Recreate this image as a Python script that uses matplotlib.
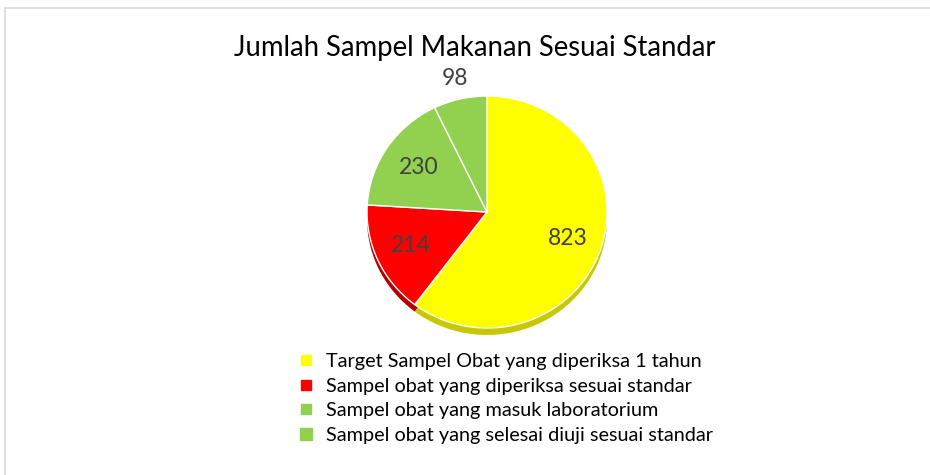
import matplotlib
matplotlib.use("Agg")
import matplotlib.pyplot as plt
from matplotlib.patches import Rectangle
from matplotlib.lines import Line2D
import numpy as np

title = "Jumlah Sampel Makanan Sesuai Standar"
categories = [
    "Target Sampel Obat yang diperiksa 1 tahun",
    "Sampel obat yang diperiksa sesuai standar",
    "Sampel obat yang masuk laboratorium",
    "Sampel obat yang selesai diuji sesuai standar",
]
values = [823, 214, 230, 98]
colors = ["#FFFF00", "#FF0000", "#92D050", "#92D050"]
dark_colors = ["#C8C800", "#B00000", "#70A030", "#70A030"]

plt.rcParams['font.family'] = ['Lato', 'DejaVu Sans']

fig = plt.figure(figsize=(9.3, 4.75), dpi=100)
fig.patches.append(Rectangle((5 / 930, -0.1), 1.1, 1 - 8 / 475 + 0.1,
                             transform=fig.transFigure, fill=False,
                             edgecolor="#D9D9D9", linewidth=1.2))

cx, cy = 487, 212
half = 130
ax = fig.add_axes([(cx - half) / 930, (475 - cy - half) / 475, 2 * half / 930, 2 * half / 475])

# 3D rim
ax.pie(values, colors=dark_colors, startangle=90, counterclock=False,
       center=(0, -0.06), wedgeprops=dict(linewidth=0))
wedges, _ = ax.pie(values, colors=colors, startangle=90, counterclock=False,
                   wedgeprops=dict(edgecolor="white", linewidth=1.0))
ax.set_aspect('auto')
ax.set_xlim(-half / 120, half / 120)
ax.set_ylim(-half / 116, half / 116)

dists = [0.71, 0.70, 0.69, 1.18]
for w, v, d in zip(wedges, values, dists):
    mid = np.deg2rad((w.theta1 + w.theta2) / 2)
    ax.text(d * np.cos(mid), d * np.sin(mid), str(v), ha="center", va="center",
            fontsize=16.5, color="#404040")

fig.text(475 / 930, 1 - 48 / 475, title, ha="center", va="center",
         fontsize=19.8, color="black")

handles = [Line2D([], [], marker="s", linestyle="none", markersize=ms,
                  markerfacecolor=c, markeredgecolor=c)
           for c, ms in zip(colors, [6.5, 6.5, 6.5, 9])]
fig.legend(handles, categories, loc="upper left",
           bbox_to_anchor=(297 / 930, 1 - 353 / 475), frameon=False,
           fontsize=14.3, handlelength=0.9, handletextpad=0.55, labelspacing=0.38,
           borderpad=0, borderaxespad=0)

fig.savefig("out.png", dpi=100)
